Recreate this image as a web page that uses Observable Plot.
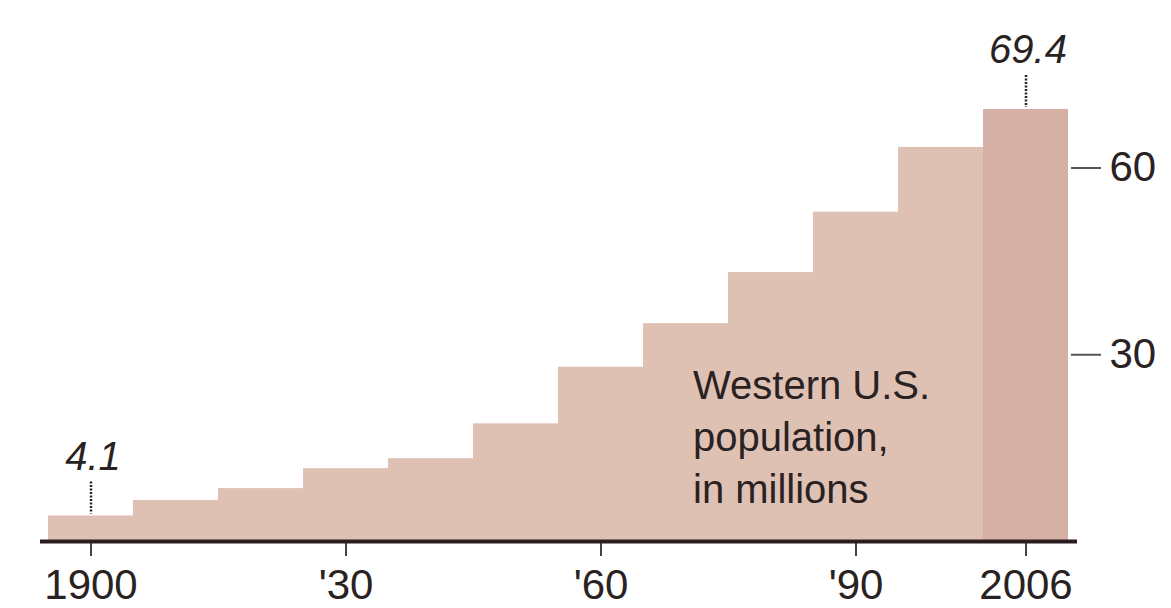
<!DOCTYPE html>
<html>
<head>
<meta charset="utf-8">
<script src="https://cdn.jsdelivr.net/npm/d3@7"></script>
<script src="https://cdn.jsdelivr.net/npm/@observablehq/plot@0.6"></script>
<style>
  html, body { margin: 0; padding: 0; background: #ffffff; }
  #chart svg { display: block; }
</style>
</head>
<body>
<div id="chart"></div>
<script>
// Data
const years = ["1900","1910","1920","1930","1940","1950","1960","1970","1980","1990","2000","2006"];
const population = [4.1, 6.6, 8.5, 11.7, 13.3, 18.9, 28.0, 35.0, 43.2, 52.9, 63.3, 69.4];
const highlightYear = "2006";
const tickYears = ["1900","1930","1960","1990","2006"];
const tickLabels = ["1900","'30","'60","'90","2006"];
const yTicks = [30, 60];
const labelYears = ["1900","2006"];
const labelTexts = ["4.1","69.4"];
const noteText = "Western U.S.\npopulation,\nin millions";
const noteYear = "1970";
const noteValue = 28.8;

const rows = years.map((y, i) => ({year: y, value: population[i], hl: y === highlightYear}));
const labelRows = labelYears.map((y, i) => ({year: y, value: population[years.indexOf(y)], text: labelTexts[i]}));
const tickMap = new Map(tickYears.map((y, i) => [y, tickLabels[i]]));

const FONT = "'Liberation Sans', Arial, Helvetica, sans-serif";

const chart = Plot.plot({
  width: 1171,
  height: 608,
  marginLeft: 45,
  marginRight: 101,
  marginTop: 43,
  marginBottom: 67,
  style: {fontFamily: FONT, background: "#ffffff", color: "#2a2222"},
  x: {type: "band", domain: years, padding: 0, label: null},
  y: {domain: [0, 80], label: null},
  marks: [
    Plot.barY(rows, {x: "year", y: "value", fill: d => d.hl ? "#d4b1a4" : "#dfc1b4", inset: 0}),
    Plot.axisY({anchor: "right", ticks: yTicks, tickSize: 30, tickPadding: 9, fontSize: 42, stroke: "#555", strokeWidth: 2, color: "#2a2222", label: null}),
    Plot.axisX({ticks: tickYears, tickFormat: d => tickMap.get(d), tickSize: 15, tickPadding: 13, fontSize: 42, strokeWidth: 2, stroke: "#444", color: "#2a2222", label: null}),
    Plot.ruleY([0], {stroke: "#2b1c1e", strokeWidth: 4, insetLeft: -5, insetRight: -7}),
    Plot.ruleX(labelRows, {x: "year", y1: "value", y2: "value", insetTop: -34, insetBottom: 2, stroke: "#2a2222", strokeWidth: 2.5, strokeDasharray: "2,1.5"}),
    Plot.text(labelRows, {x: "year", y: "value", text: "text", dy: -46, dx: 2, fontSize: 40, fontStyle: "italic", fill: "#2a2222", lineAnchor: "bottom"}),
    Plot.text([noteText], {x: () => noteYear, y: () => noteValue, text: d => d, textAnchor: "start", lineAnchor: "top", dx: 7, fontSize: 40, lineHeight: 1.3, fill: "#2a2222"})
  ]
});
document.getElementById("chart").appendChild(chart);
</script>
</body>
</html>
